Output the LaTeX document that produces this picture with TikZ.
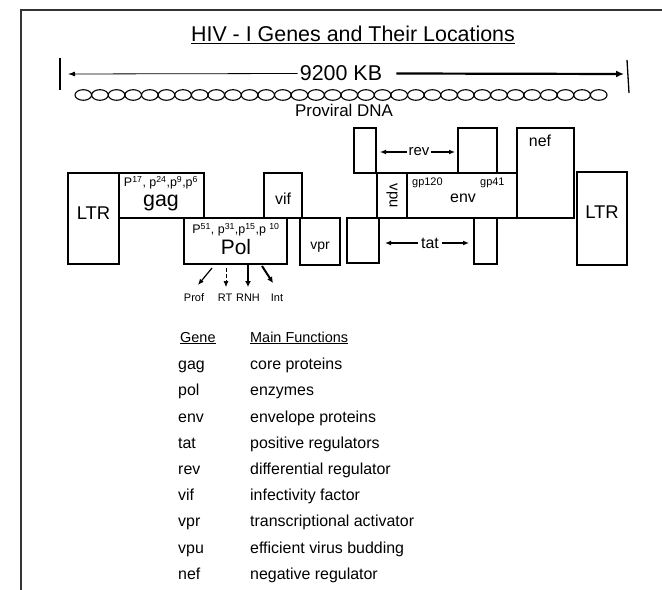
\documentclass[tikz,border=0pt]{standalone}
\usepackage{fontspec}
\setmainfont{Liberation Sans}
\usetikzlibrary{arrows.meta}
\newcommand\myfs[1]{\fontsize{#1}{#1}\selectfont}
\newcommand\gbox[5]{\node[box, anchor=north west, minimum width={(#4-#2)*1bp}, minimum height={(#5-#3)*1bp}] (#1) at (#2,#3) {};}
\begin{document}
\begin{tikzpicture}[x=1bp,y=-1bp,
  box/.style={draw, line width=1.2bp, inner sep=0pt, outer sep=0pt},
  txt/.style={inner sep=0pt, anchor=base},
  row/.style={inner sep=0pt, anchor=base west},
  thinarrow/.style={line width=0.8bp, -{Latex[length=7bp,width=5bp]}},
  thickarrow/.style={line width=2.2bp, -{Latex[length=8bp,width=7bp]}},
  midarrow/.style={line width=1.8bp, -{Latex[length=6bp,width=5bp]}},
  helix/.style={line width=1.1bp}]
\useasboundingbox (0,0) rectangle (662,590);
% frame
\draw[line width=2bp, black!80] (21,590) -- (21,10) -- (662,10);
% title
\node[txt] (title) at (353,41.5) {\myfs{21.5}\underline{HIV - I Genes and Their Locations}};
% 9200 KB
\coordinate (lb1) at (60,58); \coordinate (lb2) at (60,90);
\coordinate (rb1) at (627,60); \coordinate (rb2) at (629,93);
\draw[line width=1.3bp] (lb1) -- (lb2);
\draw[line width=1.3bp] (rb1) -- (rb2);
\node[inner sep=2bp] (kb) at (341,73.5) {\myfs{21.5}9200 KB};
\coordinate (la) at (68,74); \coordinate (ra) at (624,74);
\draw[thinarrow] (kb.west) -- (la);
\draw[thickarrow] ([xshift=12bp]kb.east) -- (ra);
% helix: chain of links
\foreach \k in {0,...,31}{
  \pgfmathsetmacro\xm{75+8.3125+16.625*\k}
  \draw[helix] (\xm,95) ellipse [x radius=8.3125bp, y radius=5.3bp];
}
\node[txt] (prov) at (344,117) {\myfs{17}Proviral DNA};
% boxes
\gbox{ltrL}{68}{173}{119}{264}
\gbox{gag}{119}{173}{204}{218}
\gbox{vif}{264}{173}{302}{218}
\gbox{pol}{184}{218}{287}{264}
\gbox{vpr}{300}{218}{340}{265}
\gbox{tatL}{347}{218}{379}{263}
\gbox{revL}{354}{128}{376}{173}
\gbox{vpu}{377}{173}{407}{218}
\gbox{env}{407}{173}{517}{218}
\gbox{revR}{458}{128}{497}{173}
\gbox{tatR}{474}{218}{497}{264}
\gbox{nef}{517}{128}{574}{218}
\gbox{ltrR}{577}{172}{627}{265}
% box texts
\node[txt] (ltrLt) at (93.5,219.5) {\myfs{18.5}LTR};
\node[txt] (ltrRt) at (602,218.5) {\myfs{18.5}LTR};
\node[txt] (gagsup) at (161,186.5) {\myfs{12.5}P\textsuperscript{17}, p\textsuperscript{24},p\textsuperscript{9},p\textsuperscript{6}};
\node[txt] (gagt) at (161,206) {\myfs{21.5}gag};
\node[txt] (vift) at (283,204) {\myfs{16}vif};
\node[txt] (polsup) at (236,233.5) {\myfs{12.5}P\textsuperscript{51}, p\textsuperscript{31},p\textsuperscript{15},p \textsuperscript{10}};
\node[txt] (polt) at (236,254.5) {\myfs{21}Pol};
\node[txt] (vprt) at (320,249) {\myfs{14}vpr};
\node[inner sep=0pt, rotate=-90] (vput) at (392,196) {\myfs{15}vpu};
\node[inner sep=0pt, anchor=base west] (gp120) at (412,186) {\myfs{11}gp120};
\node[inner sep=0pt, anchor=base west] (gp41) at (480,186) {\myfs{11}gp41};
\node[txt] (envt) at (463,202) {\myfs{16}env};
\node[txt] (neft) at (540,147) {\myfs{16}nef};
\node[inner sep=1.5bp] (revt) at (419,152) {\myfs{15}rev};
\coordinate (revla) at (380,152); \coordinate (revra) at (455,152);
\draw[midarrow] (revt.west) -- (revla);
\draw[midarrow] (revt.east) -- (revra);
\node[inner sep=3bp] (tatt) at (430,243) {\myfs{16}tat};
\coordinate (tatla) at (385,243); \coordinate (tatra) at (469,243);
\draw[midarrow] (tatt.west) -- (tatla);
\draw[midarrow] (tatt.east) -- (tatra);
% pol products
\node[txt] (prof) at (194,301) {\myfs{11}Prof};
\node[txt] (rt) at (225,301) {\myfs{11}RT};
\node[txt] (rnh) at (248,301) {\myfs{11}RNH};
\node[txt] (int) at (277,301) {\myfs{11}Int};
\coordinate (a1s) at (212,268); \coordinate (a1e) at (198,285);
\coordinate (a2s) at (226,268); \coordinate (a2e) at (226,287);
\coordinate (a3s) at (248,265); \coordinate (a3e) at (248,287);
\coordinate (a4s) at (262,266); \coordinate (a4e) at (273,283);
\draw[line width=1.2bp, -{Latex[length=6bp,width=5bp]}] (a1s) -- (a1e);
\draw[line width=0.7bp, dash pattern=on 4bp off 2bp, -{Latex[length=6bp,width=5bp]}] (a2s) -- (a2e);
\draw[line width=2bp, -{Latex[length=6bp,width=6bp]}] (a3s) -- (a3e);
\draw[line width=2bp, -{Latex[length=6bp,width=6bp]}] (a4s) -- (a4e);
% table
\node[row] (hg) at (180,342) {\myfs{14.5}\underline{Gene}};
\node[row] (hf) at (250,342) {\myfs{14.5}\underline{Main Functions}};
\foreach \g/\f/\y [count=\i] in {gag/core proteins/363, pol/enzymes/389, env/envelope proteins/416, tat/positive regulators/442, rev/differential regulator/468, vif/infectivity factor/494, vpr/transcriptional activator/520, vpu/efficient virus budding/547, nef/negative regulator/573}{
  \node[row] (g\i) at (178,\y+6) {\myfs{16}\g};
  \node[row] (f\i) at (250,\y+6) {\myfs{16}\f};
}
\end{tikzpicture}
\end{document}
